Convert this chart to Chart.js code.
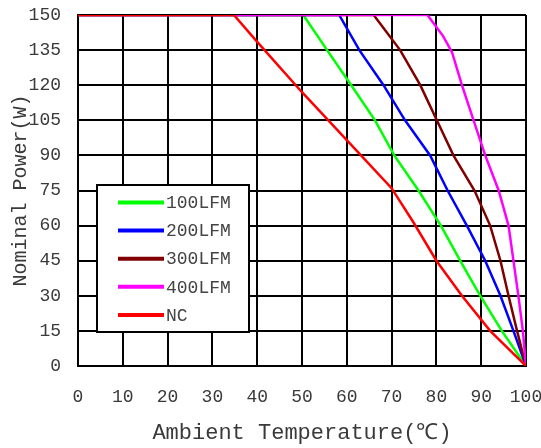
<!DOCTYPE html>
<html>
<head>
<meta charset="utf-8">
<script src="https://cdn.jsdelivr.net/npm/chart.js@4"></script>
<style>
  html, body { margin: 0; padding: 0; background: #ffffff; }
  #wrap { width: 541px; height: 448px; }
</style>
</head>
<body>
<div id="wrap"><canvas id="c" width="541" height="448"></canvas></div>
<script>
// ---- data ----
const seriesNames = ["100LFM", "200LFM", "300LFM", "400LFM", "NC"];
const seriesColors = ["#00ff00", "#0000ff", "#800000", "#ff00ff", "#ff0000"];

const temp100 = [0, 50.3, 55.6, 61, 66.3, 70.6, 76, 81, 85.3, 89.8, 94.6, 100];
const power100 = [150, 150, 135, 120, 105, 90, 75, 60, 45, 30, 15, 0];

const temp200 = [0, 58.3, 62.8, 68.2, 73, 78.6, 82.5, 86.8, 90.9, 94.3, 97.2, 100];
const power200 = [150, 150, 135, 120, 105, 90, 75, 60, 45, 30, 15, 0];

const temp300 = [0, 66, 71.9, 76.4, 80.1, 83.8, 88.5, 92, 94.3, 96.1, 98, 100];
const power300 = [150, 150, 135, 120, 105, 90, 75, 60, 45, 30, 15, 0];

const temp400 = [0, 78, 81.5, 83.5, 85.7, 88.3, 90.9, 93.9, 96.1, 97.2, 98.3, 99.3, 100];
const power400 = [150, 150, 141, 134, 120, 105, 90, 75, 60, 45, 30, 15, 0];

const tempNC = [0, 34.8, 40, 50, 60, 70, 75, 80, 85.7, 92, 100];
const powerNC = [150, 150, 138.5, 117, 96.5, 76, 61, 45, 30, 15, 0];

const xTicks = [0, 10, 20, 30, 40, 50, 60, 70, 80, 90, 100];
const yTicks = [0, 15, 30, 45, 60, 75, 90, 105, 120, 135, 150];

const xTitle = "Ambient Temperature(\u2103)";
const yTitle = "Nominal Power(W)";

// ---- build ----
const temps = [temp100, temp200, temp300, temp400, tempNC];
const powers = [power100, power200, power300, power400, powerNC];
const drawOrder = [4, 3, 2, 1, 0]; // NC on top, then 400LFM ...

const datasets = seriesNames.map((name, i) => ({
  label: name,
  data: temps[i].map((t, k) => ({ x: t, y: powers[i][k] })),
  borderColor: seriesColors[i],
  backgroundColor: seriesColors[i],
  borderWidth: 2.5,
  pointRadius: 0,
  tension: 0,
  fill: false,
  order: drawOrder[i]
}));

const tickFont = { family: "'Liberation Mono', 'DejaVu Sans Mono', monospace", size: 18 };

const legendPlugin = {
  id: 'boxLegend',
  afterDatasetsDraw(chart) {
    const ctx = chart.ctx;
    const ca = chart.chartArea;
    const bx = ca.left + 19, by = 185, bw = 152, bh = 147;
    ctx.save();
    ctx.fillStyle = '#ffffff';
    ctx.fillRect(bx, by, bw, bh);
    ctx.lineWidth = 2;
    ctx.strokeStyle = '#000000';
    ctx.strokeRect(bx, by, bw, bh);
    const rowY0 = 202.5, rowStep = 28.1;
    ctx.font = "18px 'Liberation Mono', 'DejaVu Sans Mono', monospace";
    ctx.textBaseline = 'middle';
    ctx.textAlign = 'left';
    seriesNames.forEach((name, i) => {
      const y = rowY0 + i * rowStep;
      ctx.strokeStyle = seriesColors[i];
      ctx.lineWidth = 4;
      ctx.beginPath();
      ctx.moveTo(bx + 21, y);
      ctx.lineTo(bx + 67, y);
      ctx.stroke();
      ctx.fillStyle = '#444444';
      ctx.fillText(name, bx + 69, y + 1);
    });
    ctx.restore();
  }
};

new Chart(document.getElementById('c'), {
  type: 'line',
  data: { datasets },
  plugins: [legendPlugin],
  options: {
    responsive: false,
    animation: false,
    devicePixelRatio: 1,
    layout: { padding: { top: 15, right: 15, left: 0, bottom: 0 } },
    plugins: { legend: { display: false }, tooltip: { enabled: false } },
    scales: {
      x: {
        type: 'linear',
        min: 0, max: 100,
        afterBuildTicks: (s) => { s.ticks = xTicks.map(v => ({ value: v })); },
        afterFit: (s) => { s.height = 82; s.paddingLeft = 0; s.paddingRight = 0; },
        grid: { color: '#000000', lineWidth: 2, drawTicks: false },
        border: { display: true, color: '#000000', width: 2 },
        ticks: { font: tickFont, color: '#3a3a3a', padding: 20, maxRotation: 0, autoSkip: false },
        title: {
          display: true, text: xTitle, color: '#3a3a3a',
          font: { family: "'Liberation Mono', 'DejaVu Sans Mono', monospace", size: 22 },
          padding: { top: 0, bottom: 2 }
        }
      },
      y: {
        type: 'linear',
        min: 0, max: 150,
        afterBuildTicks: (s) => { s.ticks = yTicks.map(v => ({ value: v })); },
        afterFit: (s) => { s.width = 78; s.paddingTop = 0; s.paddingBottom = 0; },
        grid: { color: '#000000', lineWidth: 2, drawTicks: false },
        border: { display: true, color: '#000000', width: 2 },
        ticks: { font: tickFont, color: '#3a3a3a', padding: 17, autoSkip: false },
        title: {
          display: true, text: yTitle, color: '#3a3a3a',
          font: { family: "'Liberation Mono', 'DejaVu Sans Mono', monospace", size: 20 },
          padding: { top: 9, bottom: 0 }
        }
      }
    }
  }
});
</script>
</body>
</html>
